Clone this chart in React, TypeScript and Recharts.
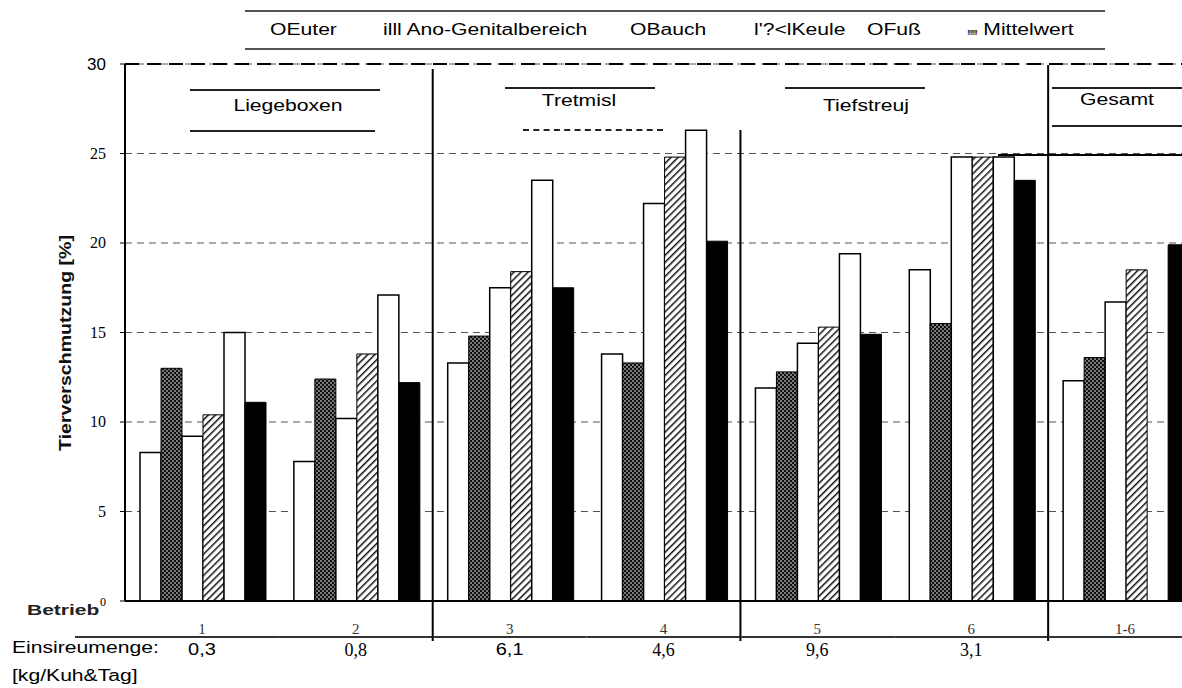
import React from 'react';
import { BarChart, Bar, XAxis, YAxis, CartesianGrid, ReferenceLine } from 'recharts';

const betriebe = ['1', '2', '3', '4', '5', '6', '1-6'];
const einstreumenge = ['0,3', '0,8', '6,1', '4,6', '9,6', '3,1', ''];
const euter = [8.3, 7.8, 13.3, 13.8, 11.9, 18.5, 12.3];
const anoGenital = [13.0, 12.4, 14.8, 13.3, 12.8, 15.5, 13.6];
const bauch = [9.2, 10.2, 17.5, 22.2, 14.4, 24.8, 16.7];
const keule = [10.4, 13.8, 18.4, 24.8, 15.3, 24.8, 18.5];
const fuss = [15.0, 17.1, 23.5, 26.3, 19.4, 24.8, null];
const mittelwert = [11.1, 12.2, 17.5, 20.1, 14.9, 23.5, 19.9];
const yTicks = [0, 5, 10, 15, 20, 25, 30];
const legendLabels = ['OEuter', 'illl Ano-Genitalbereich', 'OBauch', "l'?<lKeule", 'OFuß', 'Mittelwert'];
const haltung = ['Liegeboxen', 'Tretmisl', 'Tiefstreuj', 'Gesamt'];

const data = betriebe.map((b, i) => ({
  betrieb: b,
  euter: euter[i],
  ano: anoGenital[i],
  bauch: bauch[i],
  keule: keule[i],
  fuss: fuss[i],
  mittel: mittelwert[i],
}));

const W = 1215;
const H = 688;
const PLOT_LEFT = 125;
const PLOT_RIGHT = 13;
const STEP = (W - PLOT_LEFT - PLOT_RIGHT) / betriebe.length;
const sepTop: Record<number, number> = { 1: 69, 3: 130, 5: 65 };
const sans = '"Liberation Sans", Arial, sans-serif';
const serif = '"Liberation Serif", "Times New Roman", serif';
const STRETCH = 1.32;

const YTick = (props: any) => {
  const { x, y, payload } = props;
  const big = payload.value === 30;
  return (
    <text x={x} y={y} dy={big ? 6 : 5} textAnchor="end" fontFamily={big ? sans : serif}
      fontSize={big ? 17 : payload.value === 0 ? 12 : 16} fill="#000">
      {payload.value}
    </text>
  );
};

const XTick = (props: any) => {
  const { x, y, payload, index } = props;
  const half = STEP / 2;
  const val = einstreumenge[index];
  const useSans = val === '0,3' || val === '6,1';
  return (
    <g>
      <text x={x} y={y + 33} textAnchor="middle" fontFamily={serif} fontSize={15} fill="#333">
        {payload.value}
      </text>
      <line x1={index === 0 ? 75 : x - half} x2={x + half} y1={y + 36} y2={y + 36} stroke="#333" strokeWidth={2} />
      {useSans ? (
        <text transform={`translate(${x},${y + 54}) scale(1.25,1)`} textAnchor="middle" fontFamily={sans} fontSize={16} fill="#000">
          {val}
        </text>
      ) : (
        <text x={x} y={y + 55} textAnchor="middle" fontFamily={serif} fontSize={18} fill="#000">
          {val}
        </text>
      )}
      {sepTop[index] != null && (
        <line x1={x + half} x2={x + half} y1={sepTop[index]} y2={y + 40} stroke="#000" strokeWidth={2} />
      )}
    </g>
  );
};

const legendLeft = [270, 383, 630, 754, 867, 967];

const Stretched = ({ left, top, children, size = 16, bold = false, color = '#000', scale = STRETCH }: any) => (
  <div style={{ position: 'absolute', left, top, fontFamily: sans, fontSize: size, fontWeight: bold ? 'bold' : 'normal', color, whiteSpace: 'nowrap', transform: `scaleX(${scale})`, transformOrigin: 'left center', lineHeight: 1.2 }}>
    {children}
  </div>
);

const hLine = (left: number, top: number, width: number, dashed = false, color = '#222') => (
  <div style={{ position: 'absolute', left, top, width, height: 0, borderTop: `2px ${dashed ? 'dashed' : 'solid'} ${color}` }} />
);

const Header = ({ text, cx, cy }: { text: string; cx: number; cy: number }) => (
  <div style={{ position: 'absolute', left: cx - 150, top: cy - 10, width: 300, textAlign: 'center', lineHeight: '20px', fontFamily: sans, fontSize: 16, whiteSpace: 'nowrap', transform: `scaleX(${STRETCH})` }}>
    {text}
  </div>
);

export default function App() {
  return (
    <div style={{ position: 'absolute', left: 0, top: 0, width: 1182, height: 688, overflow: 'hidden', background: '#fff' }}>
      <BarChart width={W} height={H} data={data} margin={{ top: 64, right: PLOT_RIGHT, bottom: 0, left: 0 }}
        barCategoryGap={15} barGap={0}>
        <defs>
          <pattern id="dots" width="4" height="4" patternUnits="userSpaceOnUse">
            <rect width="4" height="4" fill="#111" />
            <circle cx="1" cy="1" r="0.8" fill="#fff" />
            <circle cx="3" cy="3" r="0.8" fill="#fff" />
          </pattern>
          <pattern id="hatch" width="5" height="5" patternUnits="userSpaceOnUse" patternTransform="rotate(45)">
            <rect width="5" height="5" fill="#fff" />
            <line x1="0" y1="0" x2="0" y2="5" stroke="#111" strokeWidth="3" />
          </pattern>
        </defs>
        <CartesianGrid vertical={false} strokeDasharray="7 5" stroke="#555" />
        <XAxis dataKey="betrieb" interval={0} height={87} tickSize={0} tickMargin={0}
          axisLine={{ stroke: '#000', strokeWidth: 2 }} tickLine={false} tick={<XTick />} />
        <YAxis type="number" domain={[0, 30]} ticks={yTicks} width={PLOT_LEFT} tickSize={5} tickMargin={14}
          axisLine={{ stroke: '#000', strokeWidth: 2 }} tickLine={{ stroke: '#000' }} tick={<YTick />} />
        <ReferenceLine y={30} stroke="#000" strokeWidth={2} strokeDasharray="14 8" />
        <Bar dataKey="euter" name="Euter" fill="#fff" stroke="#000" strokeWidth={1.5} isAnimationActive={false} />
        <Bar dataKey="ano" name="Ano-Genitalbereich" fill="url(#dots)" stroke="#000" strokeWidth={1} isAnimationActive={false} />
        <Bar dataKey="bauch" name="Bauch" fill="#fff" stroke="#000" strokeWidth={1.5} isAnimationActive={false} />
        <Bar dataKey="keule" name="Keule" fill="url(#hatch)" stroke="#000" strokeWidth={1} isAnimationActive={false} />
        <Bar dataKey="fuss" name="Fuß" fill="#fff" stroke="#000" strokeWidth={1.5} isAnimationActive={false} />
        <Bar dataKey="mittel" name="Mittelwert" fill="#000" stroke="#000" isAnimationActive={false} />
      </BarChart>

      {/* Legende */}
      {hLine(245, 10, 860, false, '#555')}
      {hLine(245, 48, 860, false, '#555')}
      {legendLabels.map((l, i) => (
        <Stretched key={l} left={legendLeft[i]} top={20}>
          {i === 5 && <span style={{ fontSize: 8, marginRight: 5, letterSpacing: -1 }}>!!!!!!</span>}
          {l}
        </Stretched>
      ))}

      {/* Haltungsverfahren */}
      {hLine(190, 89, 190)}
      <Header text={haltung[0]} cx={288} cy={106} />
      {hLine(190, 130, 185)}
      {hLine(505, 87, 150)}
      <Header text={haltung[1]} cx={579} cy={101} />
      {hLine(523, 129, 140, true)}
      {hLine(785, 87, 140)}
      <Header text={haltung[2]} cx={866} cy={106} />
      {hLine(1052, 87, 130)}
      <Header text={haltung[3]} cx={1117} cy={100} />
      {hLine(1052, 125, 130)}
      {hLine(998, 154, 184, false, '#000')}

      <div style={{ position: 'absolute', left: 66, top: 343, transform: 'translate(-50%, -50%) rotate(-90deg) scaleX(1.15)', fontFamily: sans, fontWeight: 'bold', fontSize: 17, whiteSpace: 'nowrap', color: '#111' }}>
        Tierverschmutzung [%]
      </div>
      <Stretched left={27} top={601} size={15} bold color="#222" scale={1.4}>Betrieb</Stretched>
      <Stretched left={12} top={638}>Einsireumenge:</Stretched>
      <Stretched left={12} top={666}>[kg/Kuh&amp;Tag]</Stretched>
    </div>
  );
}
